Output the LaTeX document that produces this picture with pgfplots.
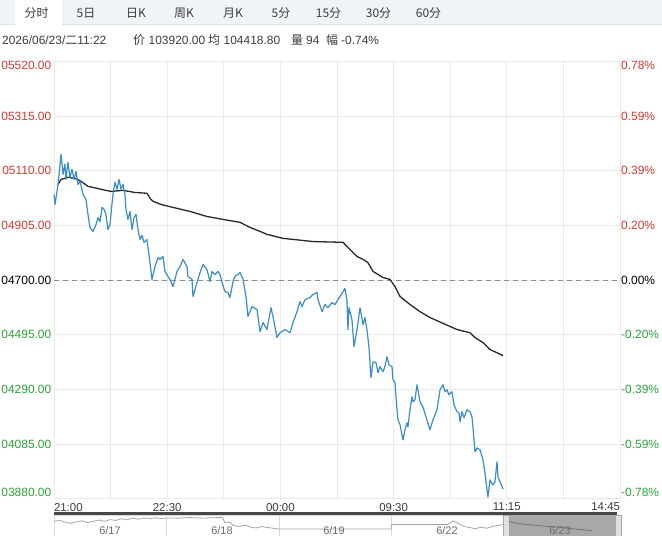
\documentclass[border=0pt]{standalone}
\usepackage{pgfplots}
\pgfplotsset{compat=1.18}
\usepackage{fontspec}
\setmainfont{Liberation Sans}
\newfontfamily\cjk{Noto Sans CJK SC}
\definecolor{pricec}{RGB}{58,142,200}
\definecolor{avgc}{RGB}{40,40,40}
\definecolor{upc}{RGB}{214,58,48}
\definecolor{dnc}{RGB}{44,165,60}
\definecolor{gridc}{RGB}{234,234,234}
\definecolor{tabbg}{RGB}{240,243,247}
\definecolor{navc}{RGB}{165,165,165}
\definecolor{txtc}{RGB}{60,60,60}
\newcommand{\lo}[1]{\raisebox{-4.3bp}[\height][\depth]{#1}}
\newcommand{\hi}[1]{\raisebox{5.8bp}[\height][\depth]{#1}}

\pgfplotstableread{
x y
0 105021
0.8 104983
3.2 105058
5.6 105171
7.2 105096
8.7 105134
9.5 105077
11.1 105141
12.7 105085
14.3 105115
15.9 105077
17.5 105107
19.1 105058
20.7 105070
23.1 105021
25.4 105002
27 104946
28.6 104897
31 104882
33.4 104908
35 104934
36.6 104919
38.2 104972
39.8 104965
41.3 104946
42.9 104889
44.5 104908
45.3 104946
46.9 105021
48.5 105066
50.1 105040
51.7 105077
53.3 105040
54.9 105058
56.4 105021
57.2 104965
58.8 104927
60.4 104957
62 104889
63.6 104934
65.2 104946
66.8 104889
68.4 104852
70 104867
71.6 104841
73.9 104852
76.3 104765
77.9 104702
80.3 104750
82.7 104784
84.3 104777
86.7 104788
88.2 104732
90.6 104713
92.2 104702
94.6 104675
97.8 104732
100.2 104750
102.6 104777
105.7 104750
106.5 104713
109.7 104702
110.5 104638
113.7 104690
116.1 104728
118.5 104758
121.6 104739
124 104694
125.6 104732
128 104720
130.4 104732
132 104720
133.6 104690
135.9 104656
138.3 104653
139.9 104634
142.3 104694
143.9 104713
147.9 104728
150.3 104702
152.6 104638
154.2 104563
157.4 104600
161.4 104589
163.8 104506
166.2 104540
169.3 104514
172.5 104596
174.1 104563
177.3 104484
179.7 104502
183.6 104514
187.6 104502
190 104540
193.2 104581
195.6 104619
197.2 104600
199.5 104626
203.5 104634
205.9 104645
209.1 104653
209.9 104626
213.1 104581
215.4 104608
217.8 104596
221 104615
223.4 104608
227.4 104638
229.8 104656
231.3 104668
232.9 104626
233.7 104514
234.5 104596
236.9 104551
238.5 104450
240.9 104514
243.3 104596
245.7 104532
247.2 104559
248.8 104514
250.4 104450
252 104333
253.6 104393
256 104390
257.6 104352
259.2 104375
261.6 104356
263.1 104375
264.7 104412
266.3 104382
268.7 104375
269.5 104326
271.1 104315
272.7 104213
273.5 104175
275.1 104157
277.5 104100
279 104138
280.6 104164
281.4 104149
283 104213
284.6 104262
285.4 104243
287 104251
288.6 104307
291 104243
293.3 104224
296.5 104175
298.9 104138
301.3 104175
304.5 104213
306.9 104288
309.3 104307
310.8 104281
312.4 104288
314 104269
316.4 104281
318 104232
320.4 104206
322 104202
322.8 104168
324.4 104206
326 104183
328.3 104213
330.7 104206
332.3 104187
333.1 104149
334.7 104055
336.3 104070
338.7 104063
341.1 104025
342.6 103976
345 103886
346.6 103950
349 103931
350.6 103943
352.2 104018
353 103961
354.6 103943
357 103916
}\pricetable

\pgfplotstableread{
x y
3.2 105058
5.6 105077
11.1 105085
16.7 105081
21.5 105070
27 105051
31 105047
37.4 105040
45.3 105032
54.9 105036
64.4 105028
73.9 105025
77.1 105002
78.7 104995
85.1 104983
94.6 104972
108.1 104957
121.6 104938
134.4 104927
147.9 104916
155.8 104897
163.8 104882
169.3 104871
182.1 104856
205.9 104844
229.8 104841
235.3 104814
240.9 104788
245.7 104777
249.6 104765
253.6 104732
261.6 104709
267.1 104702
271.1 104675
275.1 104638
283 104608
291 104581
298.9 104559
320.4 104514
330.7 104502
334.7 104484
341.1 104465
346.6 104439
352.2 104427
357 104416
}\avgtable

\begin{document}
\begin{tikzpicture}[x=1bp,y=1bp]
\path[use as bounding box] (0,0) rectangle (662,536);
\fill[white] (0,0) rectangle (662,536);
% tab bar
\fill[tabbg] (0,511) rectangle (662,536);
\draw[black!12] (0,511.5) -- (15,511.5) (62,511.5) -- (662,511.5);
\fill[white] (15,511) rectangle (62,536);
\begin{scope}[every node/.style={font=\cjk\fontsize{12}{14}\selectfont, text=txtc, inner sep=0pt}]
\node at (36.5,523) {分时};
\node at (86,523) {5日};
\node at (136,523) {日K};
\node at (184,523) {周K};
\node at (233,523) {月K};
\node at (281,523) {5分};
\node at (328.5,523) {15分};
\node at (378.5,523) {30分};
\node at (428.5,523) {60分};
\end{scope}
% info line
\begin{scope}[every node/.style={font=\fontsize{12}{14}\selectfont, text=txtc, inner sep=0pt, anchor=west}]
\node at (2,496) {2026/06/23/{\cjk 二}11:22};
\node at (133,496) {\cjk 价};
\node at (148.5,496) {103920.00};
\node at (208,496) {\cjk 均};
\node at (223.5,496) {104418.80};
\node at (291,496) {\cjk 量};
\node at (306,496) {94};
\node at (326,496) {\cjk 幅};
\node at (341,496) {-0.74\%};
\end{scope}

\begin{axis}[at={(54bp,37.4bp)}, anchor=south west, scale only axis,
  width=566bp, height=437.3bp,
  xmin=0, xmax=450, ymin=103880, ymax=105520,
  scaled y ticks=false, scaled x ticks=false,
  axis line style={draw=none}, tick style={draw=none},
  xtick={0,90,180,270,360,450}, minor xtick={45,135,225,315,405},
  ytick={103880,104085,104290,104495,104700,104905,105110,105315,105520},
  grid=both, major grid style={gridc, line width=0.8bp}, minor grid style={gridc, line width=0.8bp},
  xticklabels={\rlap{21:00},22:30,00:00,09:30,11:15,\llap{14:45}},
  xticklabel style={font=\fontsize{11.5}{13}\selectfont, text=txtc, inner sep=0pt, anchor=north, yshift=-4.3bp},
  yticklabels={
    \textcolor{dnc}{\hi{03880.00}},
    \textcolor{dnc}{04085.00},
    \textcolor{dnc}{04290.00},
    \textcolor{dnc}{04495.00},
    \textcolor{black}{04700.00},
    \textcolor{upc}{04905.00},
    \textcolor{upc}{05110.00},
    \textcolor{upc}{05315.00},
    \textcolor{upc}{\lo{05520.00}}},
  yticklabel style={font=\fontsize{12}{14}\selectfont, inner sep=0pt, anchor=east, xshift=-2.5bp},
  clip=false]
\addplot[black!45, dash pattern=on 5bp off 4bp, line width=0.8bp] coordinates {(0,104700) (450,104700)};
\addplot[avgc, line width=1.3bp] table[x=x,y=y] {\avgtable};
\addplot[pricec, line width=1.2bp, line join=round] table[x=x,y=y] {\pricetable};
\end{axis}

\begin{axis}[at={(54bp,37.4bp)}, anchor=south west, scale only axis,
  width=566bp, height=437.3bp,
  xmin=0, xmax=450, ymin=103880, ymax=105520,
  scaled y ticks=false,
  hide x axis, axis y line*=right, y axis line style={draw=none}, tick style={draw=none},
  ytick={103880,104085,104290,104495,104700,104905,105110,105315,105520},
  yticklabels={
    \textcolor{dnc}{\hi{-0.78\%}},
    \textcolor{dnc}{-0.59\%},
    \textcolor{dnc}{-0.39\%},
    \textcolor{dnc}{-0.20\%},
    \textcolor{black}{0.00\%},
    \textcolor{upc}{0.20\%},
    \textcolor{upc}{0.39\%},
    \textcolor{upc}{0.59\%},
    \textcolor{upc}{\lo{0.78\%}}},
  yticklabel style={font=\fontsize{12}{14}\selectfont, inner sep=0pt, anchor=west, xshift=1bp}]
\addplot[draw=none] coordinates {(0,104700)};
\end{axis}

% navigator
\foreach \a in {54,166.4,278.8,391.2} {\draw[black!15] (\a,0) rectangle ++(112.4,21);}
\fill[black!34] (509,0) rectangle (615,21);
\filldraw[fill=black!12, draw=black!35] (503,0) rectangle (509,21);
\filldraw[fill=black!12, draw=black!35] (615,0) rectangle (621,21);
\draw[black!72, line width=2.4bp] (54,22.5) -- (617,22.5);
\begin{axis}[at={(54bp,0bp)}, anchor=south west, scale only axis,
  width=562bp, height=21bp, xmin=0, xmax=5, ymin=0, ymax=1, hide axis, clip=false]
\addplot[navc, line width=0.8bp] coordinates {(0,0.70)(0.05,0.74)(0.1,0.66)(0.15,0.6)(0.2,0.68)(0.25,0.72)(0.3,0.64)(0.35,0.7)(0.4,0.76)(0.45,0.7)(0.5,0.78)(0.55,0.74)(0.6,0.82)(0.65,0.77)(0.7,0.85)(0.75,0.8)(0.8,0.86)(0.85,0.82)(0.9,0.87)(0.95,0.83)(1.0,0.86)(1.1,0.85)(1.2,0.88)(1.3,0.85)(1.4,0.87)(1.5,0.88)(1.52,0.62)(1.56,0.66)(1.6,0.5)(1.65,0.45)(1.7,0.52)(1.75,0.42)(1.8,0.38)(1.85,0.45)(1.9,0.4)(1.95,0.37)(2.0,0.33)(3.0,0.33)(3.0,0.55)(3.5,0.55)(3.55,0.72)(3.6,0.6)(3.65,0.45)(3.7,0.4)(3.75,0.35)(3.8,0.42)(3.85,0.37)(3.9,0.45)(3.95,0.5)(4.0,0.55)};
\addplot[black!55, line width=0.8bp] coordinates {(4.05,0.7)(4.1,0.62)(4.15,0.58)(4.2,0.55)(4.3,0.5)(4.4,0.45)(4.5,0.42)(4.6,0.35)(4.7,0.3)(4.79,0.25)};
\end{axis}
\begin{scope}[every node/.style={font=\fontsize{11}{13}\selectfont, text=black!58, inner sep=0pt}]
\node at (110,5) {6/17};
\node at (222,5) {6/18};
\node at (334,5) {6/19};
\node at (447,5) {6/22};
\node at (560,5) {6/23};
\end{scope}
\end{tikzpicture}
\end{document}
